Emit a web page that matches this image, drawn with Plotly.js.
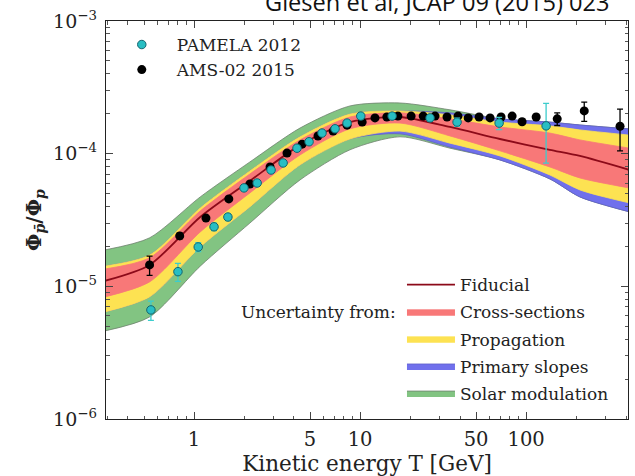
<!DOCTYPE html>
<html><head><meta charset="utf-8">
<script src="https://cdn.plot.ly/plotly-3.0.1.min.js"></script>
<style>html,body{margin:0;padding:0;background:#fff}#chart{width:635px;height:476px}</style>
</head><body><div id="chart"></div>
<script>
// ---- Data ----
const amsT   = [0.54, 0.82, 1.18, 1.62, 2.17, 2.87, 3.63, 4.48, 5.58, 6.88, 8.35, 10.3, 12.3, 14.5, 16.9, 20.3, 24.0, 28.3, 33.4, 38.9, 44.8, 52.1, 60.7, 70.7, 82.4, 94.6, 115, 154, 224, 368];
const amsV   = [1.45e-5, 2.40e-5, 3.27e-5, 4.56e-5, 5.91e-5, 7.94e-5, 1.01e-4, 1.18e-4, 1.36e-4, 1.48e-4, 1.64e-4, 1.73e-4, 1.86e-4, 1.89e-4, 1.92e-4, 1.92e-4, 1.92e-4, 1.92e-4, 1.89e-4, 1.92e-4, 1.86e-4, 1.89e-4, 1.86e-4, 1.89e-4, 1.92e-4, 1.74e-4, 1.89e-4, 1.83e-4, 2.10e-4, 1.61e-4];
const amsErr = [2.4e-6, 1.2e-6, 1.3e-6, 1.6e-6, 1.8e-6, 2.2e-6, 2.6e-6, 3.0e-6, 3.3e-6, 3.5e-6, 3.8e-6, 4.0e-6, 4.2e-6, 4.3e-6, 4.4e-6, 4.5e-6, 4.6e-6, 4.8e-6, 5.0e-6, 5.3e-6, 5.6e-6, 6.0e-6, 6.5e-6, 7.0e-6, 7.5e-6, 8.0e-6, 9.0e-6, 2.0e-5, 3.5e-5, 5.6e-5];

const pamT   = [0.55, 0.80, 1.06, 1.32, 1.60, 2.00, 2.40, 2.91, 3.44, 4.17, 4.93, 5.90, 7.07, 8.35, 10.1, 15.6, 26.4, 38.4, 68.8, 132];
const pamV   = [6.64e-6, 1.29e-5, 1.98e-5, 2.81e-5, 3.33e-5, 5.52e-5, 6.01e-5, 7.53e-5, 8.51e-5, 1.10e-4, 1.23e-4, 1.43e-4, 1.54e-4, 1.70e-4, 1.92e-4, 1.92e-4, 1.86e-4, 1.73e-4, 1.70e-4, 1.62e-4];
const pamErr = [1.1e-6, 2.0e-6, 1.5e-6, 1.8e-6, 2.0e-6, 2.8e-6, 3.0e-6, 3.5e-6, 4.0e-6, 5.0e-6, 5.5e-6, 6.5e-6, 7.0e-6, 8.0e-6, 9.0e-6, 1.0e-5, 1.1e-5, 1.2e-5, 1.8e-5, 7.7e-5];

const bandT      = [0.29, 0.54, 1.09, 2.17, 4.35, 8.7, 17.4, 34.8, 69.6, 139, 211, 420];
const fiducial   = [1.10e-5, 1.45e-5, 3.33e-5, 6.23e-5, 1.16e-4, 1.73e-4, 1.89e-4, 1.59e-4, 1.29e-4, 1.07e-4, 9.61e-5, 7.54e-5];
const xsecHi     = [1.35e-5, 1.64e-5, 3.70e-5, 7.03e-5, 1.27e-4, 1.89e-4, 2.03e-4, 1.83e-4, 1.59e-4, 1.43e-4, 1.27e-4, 1.10e-4];
const xsecLo     = [8.32e-6, 1.08e-5, 2.57e-5, 5.06e-5, 9.78e-5, 1.54e-4, 1.70e-4, 1.36e-4, 1.05e-4, 7.94e-5, 6.56e-5, 5.51e-5];
const propHi     = [1.42e-5, 1.72e-5, 3.90e-5, 7.41e-5, 1.34e-4, 1.99e-4, 2.10e-4, 1.96e-4, 1.73e-4, 1.62e-4, 1.51e-4, 1.38e-4];
const propLo     = [6.41e-6, 8.32e-6, 1.98e-5, 3.97e-5, 8.22e-5, 1.29e-4, 1.48e-4, 1.20e-4, 9.61e-5, 6.91e-5, 5.33e-5, 4.25e-5];
const slopeHi    = [1.42e-5, 1.72e-5, 3.90e-5, 7.41e-5, 1.34e-4, 1.99e-4, 2.10e-4, 2.03e-4, 1.83e-4, 1.73e-4, 1.645e-4, 1.535e-4];
const slopeLo    = [6.41e-6, 8.32e-6, 1.98e-5, 3.97e-5, 8.22e-5, 1.29e-4, 1.41e-4, 1.12e-4, 8.97e-5, 6.45e-5, 4.72e-5, 3.64e-5];
const solarHi    = [1.88e-5, 2.32e-5, 4.72e-5, 8.66e-5, 1.56e-4, 2.29e-4, 2.41e-4, 2.14e-4, 1.83e-4, 1.73e-4, 1.645e-4, 1.535e-4];
const solarLo    = [4.61e-6, 5.88e-6, 1.42e-5, 3.00e-5, 6.34e-5, 1.07e-4, 1.34e-4, 1.10e-4, 8.97e-5, 6.45e-5, 4.72e-5, 3.64e-5];

const xTickVals = [1, 5, 10, 50, 100];
const xTickText = ['1', '5', '10', '50', '100'];
const yTickVals = [1e-6, 1e-5, 1e-4, 1e-3];
const yTickText = ['10<sup>−6</sup>', '10<sup>−5</sup>', '10<sup>−4</sup>', '10<sup>−3</sup>'];

// ---- Styling ----
const serif = 'DejaVu Serif, Liberation Serif, serif';
const txt = '#222';
const SM = 0.75;

function band(lo, hi, fill, edge, name, rank) {
  const common = {x: bandT, type: 'scatter', mode: 'lines', line: {shape: 'spline', smoothing: SM, color: edge, width: 0.8}, hoverinfo: 'skip', legend: 'legend2'};
  return [
    Object.assign({}, common, {y: lo, showlegend: false, legendgroup: name}),
    Object.assign({}, common, {y: hi, fill: 'tonexty', fillcolor: fill, name: name, legendgroup: name, legendrank: rank, showlegend: true})
  ];
}

const traces = [
  ...band(solarLo, solarHi, 'rgb(130,196,130)', 'rgb(110,130,110)', 'Solar modulation', 5),
  ...band(slopeLo, slopeHi, 'rgb(112,112,236)', 'rgb(95,95,200)', 'Primary slopes', 4),
  ...band(propLo, propHi, 'rgb(253,226,82)', 'rgb(253,226,82)', 'Propagation', 3),
  ...band(xsecLo, xsecHi, 'rgb(248,120,120)', 'rgb(248,120,120)', 'Cross-sections', 2),
  {x: bandT, y: fiducial, type: 'scatter', mode: 'lines', name: 'Fiducial', legend: 'legend2', legendgroup: 'Fiducial', legendrank: 1,
   line: {shape: 'spline', smoothing: SM, color: 'rgb(140,10,25)', width: 1.8}},
  {x: amsT, y: amsV, type: 'scatter', mode: 'markers', name: 'AMS-02 2015', legend: 'legend', legendrank: 2,
   marker: {color: '#000', size: 9},
   error_y: {type: 'data', array: amsErr, visible: true, color: '#000', thickness: 1.3, width: 3}},
  {x: pamT, y: pamV, type: 'scatter', mode: 'markers', name: 'PAMELA 2012', legend: 'legend', legendrank: 1,
   marker: {color: 'rgb(40,190,195)', size: 8.5, line: {color: 'rgb(20,100,110)', width: 1}},
   error_y: {type: 'data', array: pamErr, visible: true, color: 'rgb(60,205,205)', thickness: 1.3, width: 3}}
];

function minorVals(decades) {
  const out = [];
  decades.forEach(d => { for (let k = 2; k <= 9; k++) out.push(k * d); });
  return out;
}

const layout = {
  width: 635, height: 476,
  margin: {l: 106, r: 7, t: 21, b: 57},
  paper_bgcolor: '#fff', plot_bgcolor: '#fff',
  showlegend: true,
  xaxis: {
    type: 'log', range: [Math.log10(0.295), Math.log10(411)],
    tickmode: 'array', tickvals: xTickVals, ticktext: xTickText,
    ticks: 'inside', ticklen: 7, tickwidth: 1, tickcolor: '#444',
    showline: true, linecolor: '#222', linewidth: 1.3, mirror: 'allticks',
    showgrid: false, zeroline: false,
    tickfont: {family: serif, size: 19.5, color: txt},
    ticklabelstandoff: 2,
    minor: {tickmode: 'array', tickvals: minorVals([0.1, 1, 10, 100]), ticks: 'inside', ticklen: 3.5, tickcolor: '#555', showgrid: false},
    title: {text: 'Kinetic energy T [GeV]', font: {family: serif, size: 21.5, color: txt}, standoff: 3}
  },
  yaxis: {
    type: 'log', range: [-6, -3],
    tickmode: 'array', tickvals: yTickVals, ticktext: yTickText,
    ticks: 'inside', ticklen: 7, tickwidth: 1, tickcolor: '#444',
    showline: true, linecolor: '#222', linewidth: 1.3, mirror: 'allticks',
    showgrid: false, zeroline: false,
    tickfont: {family: serif, size: 19, color: txt},
    ticklabelstandoff: 4,
    minor: {tickmode: 'array', tickvals: minorVals([1e-6, 1e-5, 1e-4]), ticks: 'inside', ticklen: 3.5, tickcolor: '#555', showgrid: false},
    title: {text: '<b>Φ<sub><i>p̄</i></sub>/Φ<sub><i>p</i></sub></b>', font: {family: serif, size: 20, color: txt}, standoff: 6}
  },
  legend: {
    x: 0.0015, y: 0.985, xanchor: 'left', yanchor: 'top',
    bgcolor: 'rgba(0,0,0,0)', font: {family: serif, size: 17, color: txt},
    itemwidth: 60, traceorder: 'normal'
  },
  legend2: {
    x: 0.567, y: 0.3816, xanchor: 'left', yanchor: 'top',
    bgcolor: 'rgba(0,0,0,0)', font: {family: serif, size: 17, color: txt},
    itemwidth: 48, tracegroupgap: 2
  },
  annotations: [
    {text: 'Uncertainty from:', xref: 'paper', yref: 'paper', x: 0.5594, y: 0.2688, xanchor: 'right', yanchor: 'middle',
     showarrow: false, font: {family: serif, size: 17, color: txt}},
    {text: 'Giesen et al, JCAP 09 (2015) 023', xref: 'paper', yref: 'paper', x: (612 - 106) / 522, y: 1.0465, xanchor: 'right', yanchor: 'middle',
     showarrow: false, font: {family: 'Open Sans, sans-serif', size: 23.6, color: '#111'}}
  ]
};

Plotly.newPlot('chart', traces, layout, {staticPlot: true, displayModeBar: false});
</script>
</body></html>
